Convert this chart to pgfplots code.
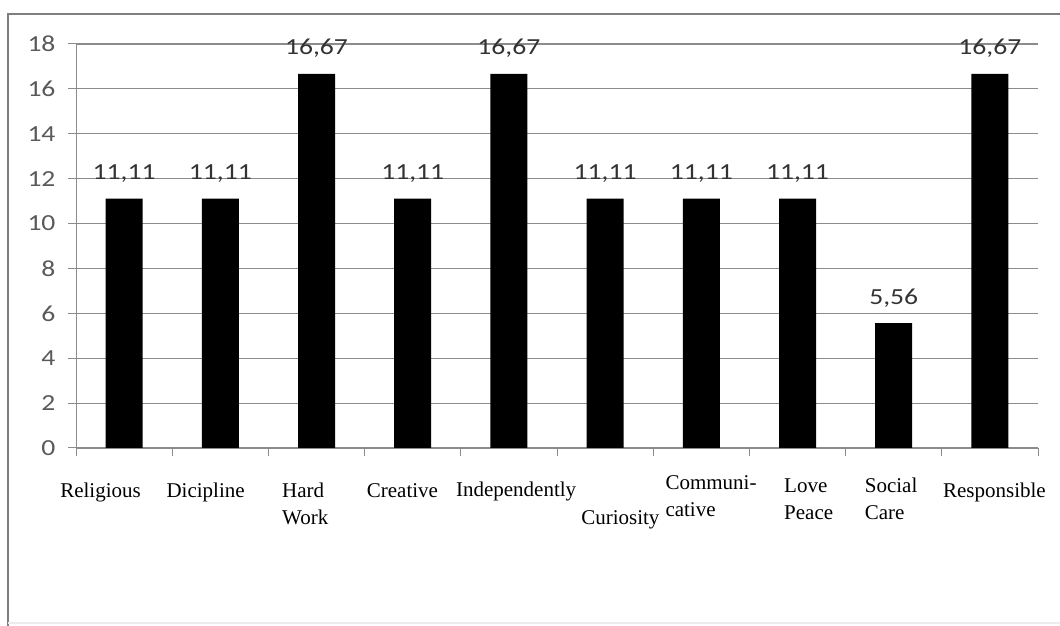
\documentclass[border=0pt]{standalone}
\usepackage{pgfplots}
\pgfplotsset{compat=1.18}
\usepackage{fontspec}
\setmainfont{Liberation Serif}
\newfontfamily\calib[FakeStretch=1.2]{Carlito}
\definecolor{gridc}{HTML}{8C8C8C}
\definecolor{tickc}{HTML}{595959}
\definecolor{lblc}{HTML}{333333}
\definecolor{framec}{HTML}{7F7F7F}
\newcommand\lbl[3]{\hspace*{#1bp}\raisebox{#2bp}{\begin{tabular}[t]{@{}l@{}}#3\end{tabular}}}
\begin{document}
\begin{tikzpicture}
\path[use as bounding box] (0,0) rectangle (1060bp,626bp);
\draw[framec, line width=2bp] (8bp,0) -- (8bp,612bp) -- (1060bp,612bp);
\draw[gray!15, line width=1.5bp] (8bp,3bp) -- (1060bp,3bp);
\begin{axis}[
  at={(76bp,178bp)}, anchor=south west,
  scale only axis, width=962bp, height=404bp,
  xmin=-0.5, xmax=9.5, ymin=0, ymax=18,
  ytick={0,2,...,18},
  xtick={0,...,9},
  xticklabels={
    \lbl{-64}{0}{Religious},
    \lbl{-54}{0}{Dicipline},
    \lbl{-34.5}{0}{Hard\\Work},
    \lbl{-46}{0}{Creative},
    \lbl{-53}{1}{Independently},
    \lbl{-24}{-26}{Curiosity},
    \lbl{-36}{8}{Communi-\\cative},
    \lbl{-13.5}{5}{Love\\Peace},
    \lbl{-29}{5}{Social\\Care},
    \lbl{-47}{0}{Responsible}},
  axis lines*=left,
  axis line style={-, gridc, line width=1bp},
  ymajorgrids,
  grid style={gridc, line width=1.2bp},
  tick align=outside, major tick length=8bp,
  tick style={gridc, line width=1bp},
  xtick style={draw=none},
  extra x ticks={-0.5,0.5,...,9.5},
  extra x tick labels={},
  extra x tick style={grid=none, xtick style={draw=gridc}},
  yticklabel style={font=\calib\fontsize{23bp}{28bp}\selectfont, text=tickc, xshift=-9bp},
  xticklabel style={font=\fontsize{21bp}{26bp}\selectfont, anchor=base west, inner sep=0pt, yshift=-42bp},
  /pgf/number format/assume math mode=true,
  nodes near coords={\pgfmathprintnumber[fixed,fixed zerofill,precision=2,use comma]{\pgfplotspointmeta}},
  every node near coord/.append style={font=\calib\fontsize{23bp}{28bp}\selectfont, text=lblc, anchor=base, yshift=19bp, inner sep=0pt},
  clip=false,
]
\addplot[ybar, bar width=37bp, fill=black, draw=none] coordinates {
  (0,11.11) (1,11.11) (2,16.67) (3,11.11) (4,16.67)
  (5,11.11) (6,11.11) (7,11.11) (8,5.56) (9,16.67)
};
\end{axis}
\end{tikzpicture}
\end{document}
